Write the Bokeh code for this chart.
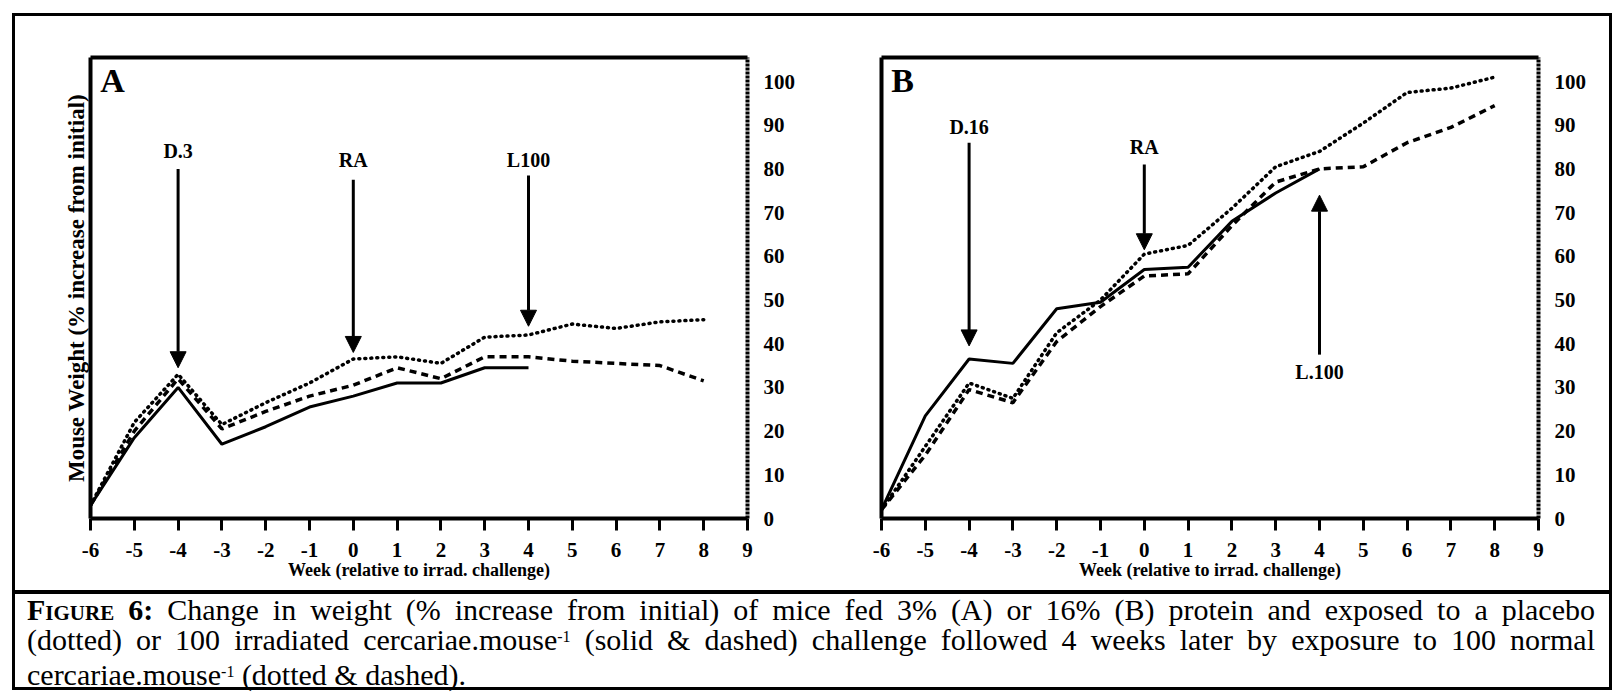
from bokeh.plotting import figure
from bokeh.models import LinearAxis, FixedTicker, Arrow, NormalHead, Label, Div, Range1d
from bokeh.layouts import row, column
from bokeh.embed import file_html
from bokeh.resources import INLINE

# ---------------- data ----------------
weeks = [-6, -5, -4, -3, -2, -1, 0, 1, 2, 3, 4, 5, 6, 7, 8]
weeks_solid = [-6, -5, -4, -3, -2, -1, 0, 1, 2, 3, 4]
x_ticks = [-6, -5, -4, -3, -2, -1, 0, 1, 2, 3, 4, 5, 6, 7, 8, 9]
y_ticks = [0, 10, 20, 30, 40, 50, 60, 70, 80, 90, 100]

# Panel A (3% protein)
a_solid = [3, 18.5, 30, 17, 21, 25.5, 28, 31, 31, 34.5, 34.5]
a_dashed = [3, 20, 32, 20.5, 24.5, 28, 30.5, 34.5, 32, 37, 37, 36, 35.5, 35, 31.5]
a_dotted = [3, 22, 33, 21.5, 26.5, 31, 36.5, 37, 35.5, 41.5, 42, 44.5, 43.5, 45, 45.5]

# Panel B (16% protein)
b_solid = [2, 23.5, 36.5, 35.5, 48, 49.5, 57, 57.5, 68, 74.5, 80]
b_dashed = [2, 14.5, 29.5, 26.5, 40.5, 48.5, 55.5, 56, 67, 77, 80, 80.5, 86, 89.5, 94.5]
b_dotted = [2, 16.5, 31, 27.5, 42.5, 50, 60.5, 62.5, 71, 80.5, 84, 90.5, 97.5, 98.5, 101]

# Event arrows
a_ann_x = [-4, 0, 4]
a_ann_text = ["D.3", "RA", "L100"]
a_ann_label_y = [84, 82, 82]
a_ann_start = [80, 77.5, 78.5]
a_ann_end = [34.5, 38, 44]

b_ann_x = [-4, 0, 4]
b_ann_text = ["D.16", "RA", "L.100"]
b_ann_label_y = [89.5, 85, 33.5]
b_ann_start = [86, 81, 37.5]
b_ann_end = [39.5, 61.5, 74]

X_TITLE = "Week (relative to irrad. challenge)"
Y_TITLE = "Mouse Weight (% increase from initial)"
FONT = "Liberation Serif"


def make_panel(letter, solid, dashed, dotted, ann_x, ann_text, ann_label_y,
               ann_start, ann_end, width, mbl, mbr, left_title):
    p = figure(width=width, height=574, output_backend="svg", toolbar_location=None,
               x_range=Range1d(-6, 9), y_range=Range1d(0, 105.5),
               y_axis_location="right",
               min_border_left=mbl, min_border_right=mbr,
               min_border_top=41, min_border_bottom=72)
    p.outline_line_color = None
    p.grid.visible = False
    p.background_fill_color = "white"
    p.border_fill_color = "white"

    # bottom axis
    xa = p.xaxis[0]
    xa.ticker = FixedTicker(ticks=x_ticks)
    xa.major_label_overrides = {t: str(t) for t in x_ticks}
    xa.axis_line_width = 4
    xa.axis_line_color = "black"
    xa.major_tick_in = 0
    xa.major_tick_out = 12
    xa.major_tick_line_width = 3
    xa.minor_tick_line_color = None
    xa.major_label_standoff = 12
    xa.major_label_text_font = FONT
    xa.major_label_text_font_style = "bold"
    xa.major_label_text_font_size = "21px"
    xa.major_label_text_color = "black"
    xa.axis_label = X_TITLE
    xa.axis_label_text_font = FONT
    xa.axis_label_text_font_style = "bold"
    xa.axis_label_text_font_size = "18px"
    xa.axis_label_text_color = "black"
    xa.axis_label_standoff = 0

    # right axis (value labels)
    ya = p.yaxis[0]
    ya.ticker = FixedTicker(ticks=y_ticks)
    ya.axis_line_width = 4
    ya.axis_line_dash = "3 1"
    ya.major_tick_line_color = None
    ya.minor_tick_line_color = None
    ya.major_label_standoff = 10
    ya.major_label_text_font = FONT
    ya.major_label_text_font_style = "bold"
    ya.major_label_text_font_size = "21px"
    ya.major_label_text_color = "black"

    # left and top frame lines
    left = LinearAxis(ticker=FixedTicker(ticks=[]), axis_line_width=4)
    if left_title:
        left.axis_label = left_title
        left.axis_label_text_font = FONT
        left.axis_label_text_font_style = "bold"
        left.axis_label_text_font_size = "23px"
        left.axis_label_text_color = "black"
        left.axis_label_standoff = 2
    p.add_layout(left, "left")
    top = LinearAxis(ticker=FixedTicker(ticks=[]), axis_line_width=4)
    p.add_layout(top, "above")

    # series
    p.line(weeks, dotted, line_color="black", line_width=3.5, line_dash="1 5", line_cap="round")
    p.line(weeks, dashed, line_color="black", line_width=3.5, line_dash="7 5")
    p.line(weeks_solid, solid, line_color="black", line_width=3)

    # event arrows and labels
    for x, t, ly, ys, ye in zip(ann_x, ann_text, ann_label_y, ann_start, ann_end):
        p.add_layout(Arrow(x_start=x, y_start=ys, x_end=x, y_end=ye, line_width=3,
                           line_color="black",
                           end=NormalHead(size=16, fill_color="black", line_color="black")))
        p.add_layout(Label(x=x, y=ly, text=t, text_align="center", text_baseline="middle",
                           text_font=FONT, text_font_style="bold",
                           text_font_size="20px", text_color="black"))

    p.add_layout(Label(x=-5.78, y=104.5, text=letter, text_align="left", text_baseline="top",
                       text_font=FONT, text_font_style="bold",
                       text_font_size="34px", text_color="black"))
    return p


pA = make_panel("A", a_solid, a_dashed, a_dotted, a_ann_x, a_ann_text, a_ann_label_y,
                a_ann_start, a_ann_end, 790, 75, 58, Y_TITLE)
pB = make_panel("B", b_solid, b_dashed, b_dotted, b_ann_x, b_ann_text, b_ann_label_y,
                b_ann_start, b_ann_end, 804, 76, 71, None)

sup = '<span style="font-size:16px; position:relative; top:-8px; vertical-align:baseline;">-1</span>'
line_style = "text-align:justify; text-align-last:justify; white-space:nowrap;"
caption_html = (
    '<div style="border-top:4px solid black; padding:1px 14px 0 12px; box-sizing:border-box; '
    'width:1594px; height:97px; font-family:\'Liberation Serif\', serif; font-size:30px; '
    'line-height:30px; color:black;">'
    f'<div style="{line_style}"><b style="font-variant:small-caps">Figure 6:</b> Change in weight '
    '(% increase from initial) of mice fed 3% (A) or 16% (B) protein and exposed to a placebo</div>'
    f'<div style="{line_style}">(dotted) or 100 irradiated cercariae.mouse{sup} '
    '(solid &amp; dashed) challenge followed 4 weeks later by exposure to 100 normal</div>'
    f'<div style="white-space:nowrap;">cercariae.mouse{sup} (dotted &amp; dashed).</div>'
    '</div>'
)
cap = Div(text=caption_html, width=1594, height=97, margin=0)

layout = column(row(pA, pB), cap, margin=(13, 0, 0, 12),
                styles={"border": "3px solid black"})

open("out.html", "w").write(file_html(layout, INLINE))
